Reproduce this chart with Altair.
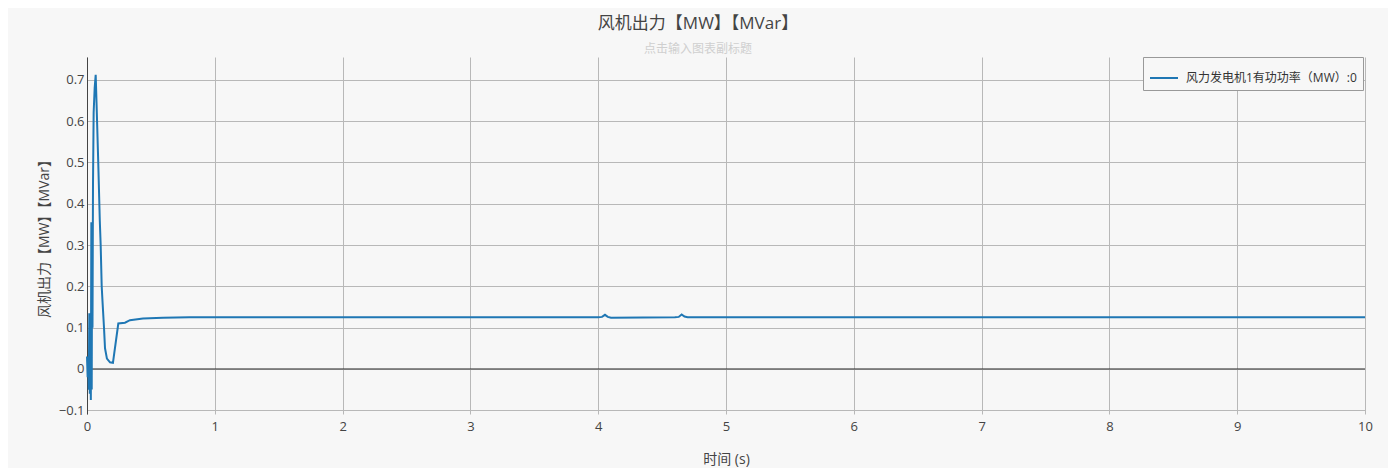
import altair as alt
import pandas as pd

title_text = "风机出力【MW】【MVar】"
subtitle_text = "点击输入图表副标题"
x_title = "时间 (s)"
y_title = "风机出力【MW】【MVar】"
series_name = "风力发电机1有功功率（MW）:0"

times = [0.0, 0.005, 0.01, 0.014, 0.018, 0.022, 0.026, 0.03, 0.034, 0.037, 0.040,
         0.043, 0.047, 0.052, 0.06, 0.068, 0.075, 0.088, 0.1, 0.107, 0.115, 0.122,
         0.133, 0.141, 0.156, 0.18, 0.203, 0.245, 0.297, 0.336, 0.438, 0.595, 0.8,
         4.0, 4.03, 4.053, 4.075, 4.1, 4.6, 4.63, 4.653, 4.675, 4.7, 10.0]
values = [0.03, -0.02, 0.03, -0.05, 0.135, -0.06, 0.05, -0.075, 0.355, -0.05, 0.35,
          0.1, 0.45, 0.62, 0.68, 0.712, 0.64, 0.5, 0.36, 0.3, 0.2, 0.16,
          0.1, 0.05, 0.025, 0.016, 0.015, 0.11, 0.112, 0.118, 0.122, 0.124, 0.125,
          0.125, 0.126, 0.131, 0.126, 0.124, 0.125, 0.126, 0.132, 0.127, 0.125, 0.125]

x_ticks = [0, 1, 2, 3, 4, 5, 6, 7, 8, 9, 10]
y_ticks = [-0.1, 0, 0.1, 0.2, 0.3, 0.4, 0.5, 0.6, 0.7]

df = pd.DataFrame({"t": times, "v": values, "s": [series_name] * len(times)})
zero_df = pd.DataFrame({"y": [0]})

FONT = "Open Sans, Noto Sans CJK SC, sans-serif"

line = alt.Chart(df).mark_line(strokeWidth=2).encode(
    x=alt.X("t:Q", scale=alt.Scale(domain=[0, 10], nice=False, zero=False),
            axis=alt.Axis(values=x_ticks, title=x_title, format="d", domain=False,
                          ticks=False, labelPadding=6, gridColor="#b8b8b8",
                          labelFlush=False,
                          titleY=45, titleBaseline="middle", titleFontSize=14,
                          titleFontWeight="normal")),
    y=alt.Y("v:Q", scale=alt.Scale(domain=[-0.109, 0.755], nice=False, zero=False),
            axis=alt.Axis(values=y_ticks, title=y_title, domain=True, domainColor="#444",
                          ticks=False, labelPadding=3, gridColor="#b8b8b8",
                          labelFlush=False,
                          labelExpr="datum.value == 0 ? '0' : format(datum.value, '.1f')",
                          titleX=-43, titleY=178, titleAlign="center",
                          titleBaseline="middle", titleFontSize=14,
                          titleFontWeight="normal")),
    color=alt.Color("s:N", scale=alt.Scale(domain=[series_name], range=["#1f77b4"]),
                    legend=alt.Legend(title=None, orient="none", legendX=1056, legendY=0,
                                      symbolType="stroke", symbolSize=784,
                                      symbolStrokeWidth=2, labelFontSize=12,
                                      labelLimit=0,
                                      labelColor="#333", strokeColor="#999",
                                      fillColor="#f7f7f7", padding=6,
                                      labelOffset=7, cornerRadius=0)),
)

zero = alt.Chart(zero_df).mark_rule(color="#333", strokeWidth=1).encode(y="y:Q")

chart = alt.layer(zero, line).properties(
    width=1278,
    height=357,
    autosize=alt.AutoSizeParams(type="none"),
    padding={"left": 79, "top": 49, "right": 23, "bottom": 54},
    title=alt.TitleParams(text=title_text, subtitle=subtitle_text, anchor="middle",
                          fontSize=17, fontWeight="normal", color="#444",
                          subtitleFontSize=12, subtitleColor="#cfcfcf",
                          subtitlePadding=11, offset=1, dx=-28, font=FONT,
                          subtitleFont=FONT),
).configure(background="#f7f7f7", font=FONT).configure_view(stroke=None).configure_axis(
    labelFontSize=13, labelColor="#444", titleColor="#444", labelFont=FONT, titleFont=FONT
).configure_legend(labelFont=FONT)

chart.save("out.html", embed_options={"renderer": "svg", "actions": False})
